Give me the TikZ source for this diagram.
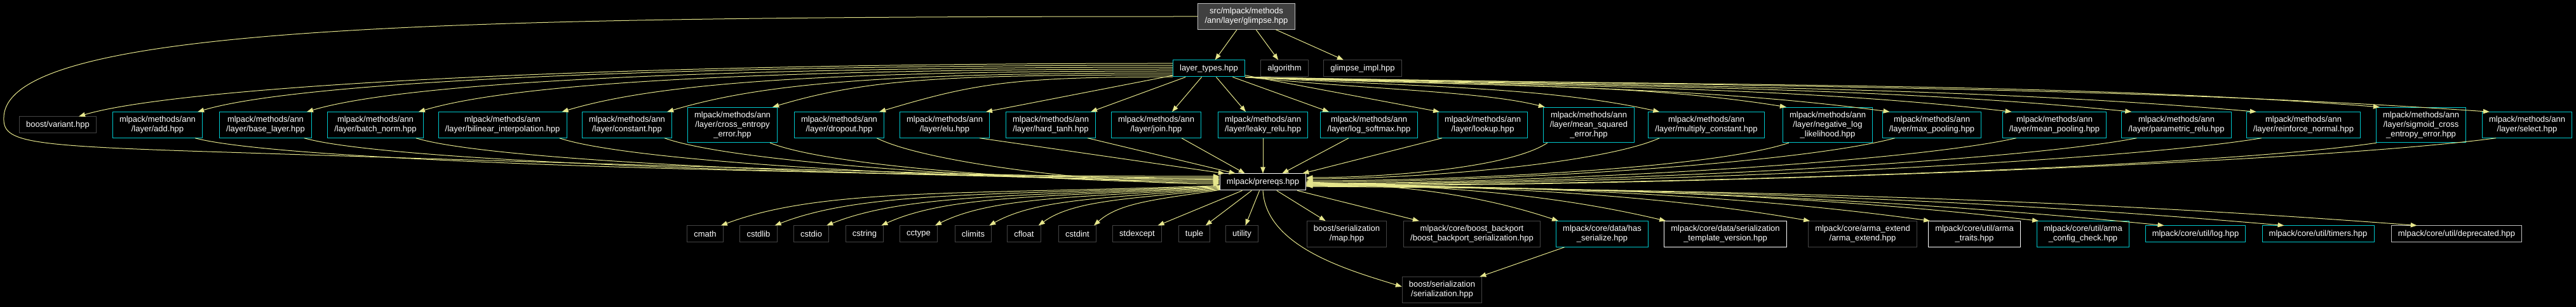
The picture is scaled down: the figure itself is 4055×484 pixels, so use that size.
\documentclass[tikz,border=0pt]{standalone}
\usepackage{fontspec}
\setmainfont{Liberation Sans}
\usetikzlibrary{arrows.meta,calc}

\definecolor{edgecol}{RGB}{230,230,140}
\definecolor{cyanline}{RGB}{0,200,205}
\definecolor{greyline}{RGB}{68,68,68}
\definecolor{lightline}{RGB}{191,191,191}
\definecolor{mainfill}{RGB}{64,64,64}

\begin{document}
\begin{tikzpicture}[
  x=0.75pt, y=-0.75pt,
  font=\fontsize{9.75}{11.25}\selectfont,
  filebox/.style={fill=black, text=white, align=center, line width=0.75pt,
    inner xsep=8pt, inner ysep=5pt, minimum height=19.5pt},
  ext/.style={filebox, draw=greyline},
  doc/.style={filebox, draw=cyanline},
  wbox/.style={filebox, draw=white},
  dep/.style={draw=edgecol, line width=0.75pt, -{Triangle[length=7.5pt,width=5.5pt]}}
]
\path[fill=black] (0,0) rectangle (4055,484);

% top
\node[filebox, draw=lightline, fill=mainfill] (glimpse) at (1962,26) {src/mlpack/methods\\/ann/layer/glimpse.hpp};
\node[doc] (lt) at (1903,108) {layer\_types.hpp};
\node[ext] (alg) at (2022,108) {algorithm};
\node[ext] (impl) at (2145,108) {glimpse\_impl.hpp};

% layers
\node[ext] (variant) at (91,197) {boost/variant.hpp};
\node[doc] (add) at (248,197) {mlpack/methods/ann\\/layer/add.hpp};
\node[doc] (base) at (418,197) {mlpack/methods/ann\\/layer/base\_layer.hpp};
\node[doc] (batch) at (591,197) {mlpack/methods/ann\\/layer/batch\_norm.hpp};
\node[doc] (bil) at (791,197) {mlpack/methods/ann\\/layer/bilinear\_interpolation.hpp};
\node[doc] (constant) at (987,197) {mlpack/methods/ann\\/layer/constant.hpp};
\node[doc] (cross) at (1153,197) {mlpack/methods/ann\\/layer/cross\_entropy\\\_error.hpp};
\node[doc] (drop) at (1321,197) {mlpack/methods/ann\\/layer/dropout.hpp};
\node[doc] (elu) at (1487,197) {mlpack/methods/ann\\/layer/elu.hpp};
\node[doc] (hardtanh) at (1654,197) {mlpack/methods/ann\\/layer/hard\_tanh.hpp};
\node[doc] (join) at (1820,197) {mlpack/methods/ann\\/layer/join.hpp};
\node[doc] (leaky) at (1988,197) {mlpack/methods/ann\\/layer/leaky\_relu.hpp};
\node[doc] (logsoft) at (2155,197) {mlpack/methods/ann\\/layer/log\_softmax.hpp};
\node[doc] (lookup) at (2334,197) {mlpack/methods/ann\\/layer/lookup.hpp};
\node[doc] (msq) at (2501,197) {mlpack/methods/ann\\/layer/mean\_squared\\\_error.hpp};
\node[doc] (mulc) at (2686,197) {mlpack/methods/ann\\/layer/multiply\_constant.hpp};
\node[doc] (neglog) at (2877,197) {mlpack/methods/ann\\/layer/negative\_log\\\_likelihood.hpp};
\node[doc] (maxp) at (3041,197) {mlpack/methods/ann\\/layer/max\_pooling.hpp};
\node[doc] (meanp) at (3234,197) {mlpack/methods/ann\\/layer/mean\_pooling.hpp};
\node[doc] (prelu) at (3426,197) {mlpack/methods/ann\\/layer/parametric\_relu.hpp};
\node[doc] (reinf) at (3626,197) {mlpack/methods/ann\\/layer/reinforce\_normal.hpp};
\node[doc] (sigm) at (3811,197) {mlpack/methods/ann\\/layer/sigmoid\_cross\\\_entropy\_error.hpp};
\node[doc] (select) at (3978,197) {mlpack/methods/ann\\/layer/select.hpp};

\node[filebox, draw=white] (prereqs) at (1988,287) {mlpack/prereqs.hpp};

% includes of prereqs
\foreach \nm/\px in {cmath/1110, cstdlib/1194, cstdio/1277, cstring/1361, cctype/1446,
    climits/1532, cfloat/1612, cstdint/1696, stdexcept/1790, tuple/1880, utility/1955}
  \node[ext] (\nm) at (\px,369) {\nm};
\node[ext] (map) at (2120,369) {boost/serialization\\/map.hpp};
\node[ext] (backport) at (2317,369) {mlpack/core/boost\_backport\\/boost\_backport\_serialization.hpp};
\node[doc] (hasser) at (2522,369) {mlpack/core/data/has\\\_serialize.hpp};
\node[wbox] (tmplver) at (2716,369) {mlpack/core/data/serialization\\\_template\_version.hpp};
\node[ext] (armaext) at (2932,369) {mlpack/core/arma\_extend\\/arma\_extend.hpp};
\node[wbox] (armatr) at (3108,369) {mlpack/core/util/arma\\\_traits.hpp};
\node[doc] (cfgchk) at (3279,369) {mlpack/core/util/arma\\\_config\_check.hpp};
\node[doc] (log) at (3456,369) {mlpack/core/util/log.hpp};
\node[doc] (timers) at (3649,369) {mlpack/core/util/timers.hpp};
\node[filebox, draw=lightline] (depr) at (3867,369) {mlpack/core/util/deprecated.hpp};
\node[ext] (ser) at (2270,457) {boost/serialization\\/serialization.hpp};

% glimpse.hpp
\draw[dep] (glimpse) -- (lt);
\draw[dep] (glimpse) -- (alg);
\draw[dep] (glimpse) -- (impl);
\draw[dep] (glimpse.west) .. controls (700,26) and (10,40) .. (6,185)
  .. controls (4,225) and (40,230) .. (357,240)
  .. controls (900,258) and (1600,277) .. ($(prereqs.west)+(0,-4)$);

% layer_types.hpp
\foreach \tgt/\an/\ox/\ca in {variant/172/-28/950, add/175/-8/850, base/178/-8/750, batch/181/-8/650,
    bil/184/-8/550, constant/187/-8/450, cross/190/-8/350, drop/193/-8/250}
  \draw[dep] (lt.\an) .. controls +(-\ca,0) and +(150,-45) .. ($(\tgt.north east)+(\ox,0)$);
\foreach \tgt/\ox in {elu/65, hardtanh/63, join/25, leaky/-27, logsoft/-63, lookup/-68}
  \draw[dep] (lt) -- ($(\tgt.north)+(\ox,0)$);
\draw[dep] (lt.south east) .. controls +(200,20) and +(-100,-25) .. ($(msq.north west)+(3,0)$);
\foreach \tgt/\ox/\ca/\cb in {mulc/18/260/180, neglog/6/340/250, maxp/12/420/300, meanp/15/500/350,
    prelu/16/580/400, reinf/16/660/460, sigm/6/740/520, select/12/800/580}
  \draw[dep] (lt.south east) .. controls +(\ca,15) and +(-\cb,-40) .. ($(\tgt.north west)+(\ox,0)$);

% layers to prereqs
\foreach \tgt/\ey/\ca/\cb in {add/-9/150/550, base/-7/140/500, batch/-5/130/450, bil/-3/120/380,
    constant/-1/110/300, cross/1/100/230, drop/3/80/180}
  \draw[dep] ($(\tgt.south east)+(-12,0)$) .. controls +(\ca,40) and +(-\cb,0) .. ($(prereqs.west)+(0,\ey)$);
\draw[dep] ($(elu.south east)+(-16,0)$) -- ($(prereqs.north west)+(8,0)$);
\draw[dep] ($(hardtanh.south east)+(-13,0)$) -- ($(prereqs.north west)+(25,0)$);
\draw[dep] ($(join.south)+(40,0)$) -- ($(prereqs.north west)+(40,0)$);
\draw[dep] (leaky) -- (prereqs);
\draw[dep] ($(logsoft.south)+(-32,0)$) -- ($(prereqs.north east)+(-38,0)$);
\draw[dep] ($(lookup.south)+(-64,0)$) -- ($(prereqs.north east)+(-6,0)$);
\foreach \tgt/\ox/\ey/\ca/\cb in {msq/7/-7/60/120, mulc/18/-5/90/180, neglog/10/-2/120/245,
    maxp/20/0/150/300, meanp/22/2/180/360, prelu/24/3/210/420, reinf/24/4/240/480,
    sigm/1/5/270/540, select/22/6/300/600}
  \draw[dep] ($(\tgt.south west)+(\ox,0)$) .. controls +(-\ca,40) and +(\cb,0) .. ($(prereqs.east)+(0,\ey)$);

% prereqs.hpp
\foreach \tgt/\ey/\ca/\cb/\cy in {cmath/-8/400/160/-60, cstdlib/-7/350/140/-55, cstdio/-6/310/125/-50,
    cstring/-5/270/105/-48, cctype/-4/225/90/-45, climits/-3/180/75/-42, cfloat/-2/140/55/-40,
    cstdint/-1/100/40/-36}
  \draw[dep] ($(prereqs.south west)+(0,\ey)$) .. controls +(-\ca,15) and +(\cb,\cy) .. ($(\tgt.north east)+(-4,0)$);
\foreach \tgt in {stdexcept, tuple, utility, map, backport}
  \draw[dep] (prereqs) -- (\tgt);
\foreach \tgt/\ox/\ey/\ca/\cb in {hasser/4/0/160/120, tmplver/3/1/230/170, armaext/3/2/310/230,
    armatr/3/3/390/290, cfgchk/3/4/460/345, log/30/5/540/400, timers/35/6/615/460, depr/41/7/700/525}
  \draw[dep] ($(prereqs.east)+(0,\ey)$) .. controls +(\ca,5) and +(-\cb,-40) .. ($(\tgt.north west)+(\ox,0)$);
\draw[dep] (prereqs.south) .. controls +(5,90) and +(-80,-25) .. ($(ser.west)+(0,-5)$);

% has_serialize.hpp
\draw[dep] (hasser) -- (ser);
\end{tikzpicture}
\end{document}
